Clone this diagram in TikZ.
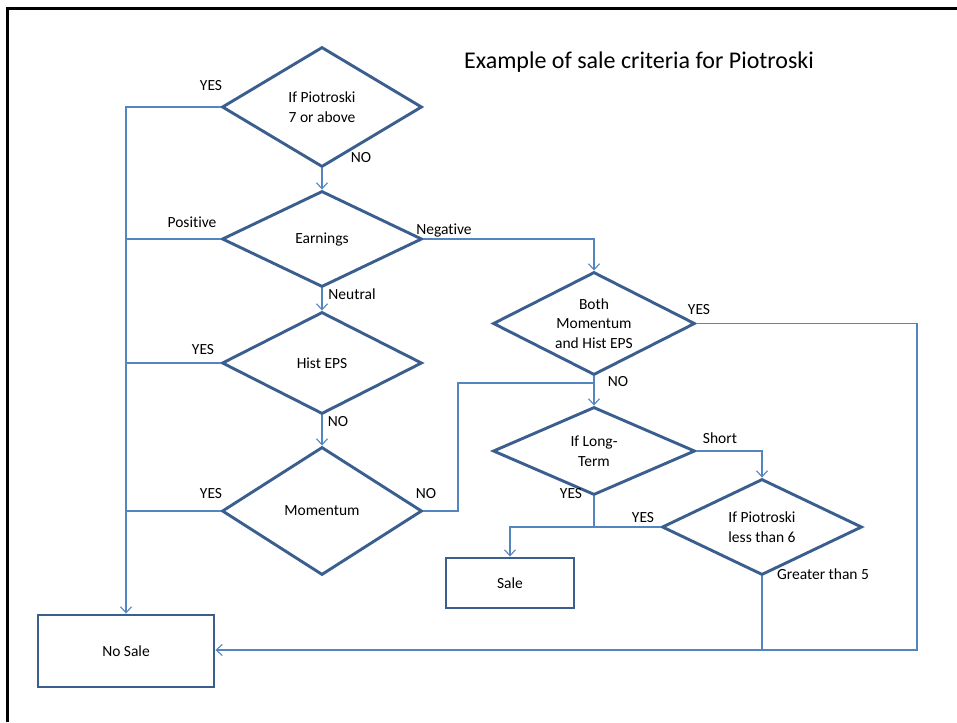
\documentclass[tikz,border=0pt]{standalone}
\usepackage{fontspec}
\setmainfont{Carlito}[Ligatures=NoCommon]
\usetikzlibrary{shapes.geometric,arrows.meta}
\definecolor{shapeblue}{HTML}{3A5F8F}
\definecolor{lineblue}{HTML}{5585C0}
\tikzset{
  dec/.style={diamond, aspect=2, draw=shapeblue, line width=2.9pt, inner sep=0pt, align=center,
    font=\fontsize{15.5}{19.5}\selectfont},
  box/.style={rectangle, draw=shapeblue, line width=2.9pt, inner sep=0pt,
    font=\fontsize{15.5}{19.5}\selectfont},
  conn/.style={draw=lineblue, line width=1.4pt},
  arr/.style={conn, -{Straight Barb[length=6pt,width=11pt,line width=1.1pt]}},
  lbl/.style={font=\fontsize{15.5}{19.5}\selectfont, inner sep=0pt}
}
\begin{document}
\begin{tikzpicture}[x=1pt,y=-1pt]
\useasboundingbox (0,0) rectangle (957,722);
\fill[white] (0,0) rectangle (957,722);
% slide border
\draw[line width=3.2pt] (7.5,722) -- (7.5,8.5) -- (957,8.5);

\node[font=\fontsize{24}{28}\selectfont] (title) at (639,62) {Example of sale criteria for Piotroski};

% decisions
\node[dec, minimum width=200pt, minimum height=120pt] (d1) at (322,107) {If Piotroski\\7 or above};
\node[dec, minimum width=200pt, minimum height=96pt] (earn) at (322,239) {Earnings};
\node[dec, minimum width=200pt, minimum height=102pt] (hist) at (322,363) {Hist EPS};
\node[dec, minimum width=200pt, minimum height=128pt] (mom) at (322,511) {Momentum};
\node[dec, minimum width=202pt, minimum height=103pt] (both) at (594,323.5) {Both\\Momentum\\and Hist EPS};
\node[dec, minimum width=202pt, minimum height=88pt] (long) at (594,451) {If Long-\\Term};
\node[dec, minimum width=200pt, minimum height=96pt] (less) at (762,527) {If Piotroski\\less than 6};

% outcomes
\node[box, minimum width=128pt, minimum height=50pt] (sale) at (510,583) {Sale};
\node[box, minimum width=176pt, minimum height=72pt] (nosale) at (126,651) {No Sale};

% connectors
\draw[arr] (d1.west) -| (nosale.north);
\draw[conn] (earn.west) -- (nosale.north |- earn.west);
\draw[conn] (hist.west) -- (nosale.north |- hist.west);
\draw[conn] (mom.west) -- (nosale.north |- mom.west);
\draw[arr] (d1.south) -- (earn.north);
\draw[arr] (earn.south) -- (hist.north);
\draw[arr] (hist.south) -- (mom.north);
\draw[arr] (earn.east) -| (both.north);
\draw[arr] (both.south) -- (long.north);
\coordinate (momr) at (458,511);
\coordinate (join) at (594,383);
\draw[conn] (mom.east) -- (momr) |- (join);
\coordinate (bothr) at (917,323.5);
\coordinate (bothb) at (917,650);
\draw[arr] (both.east) -- (bothr) -- (bothb) -- (nosale.east |- bothb);
\draw[arr] (long.east) -| (less.north);
\coordinate (lj) at (594,527);
\draw[conn] (long.south) -- (lj);
\draw[arr] (less.west) -| (sale.north);
\draw[conn] (less.south) -- (less.south |- bothb);

% labels
\node[lbl] (l1) at (211,86) {YES};
\node[lbl] (l2) at (361,158) {NO};
\node[lbl] (l3) at (192,222) {Positive};
\node[lbl] (l4) at (444,230) {Negative};
\node[lbl] (l5) at (352,294) {Neutral};
\node[lbl] (l6) at (699,310) {YES};
\node[lbl] (l7) at (618,382) {NO};
\node[lbl] (l8) at (203,350) {YES};
\node[lbl] (l9) at (338,422) {NO};
\node[lbl] (l10) at (211,494) {YES};
\node[lbl] (l11) at (426,494) {NO};
\node[lbl] (l12) at (720,438) {Short};
\node[lbl] (l13) at (571,494) {YES};
\node[lbl] (l14) at (643,518) {YES};
\node[lbl] (l15) at (823,574) {Greater than 5};
\end{tikzpicture}
\end{document}
